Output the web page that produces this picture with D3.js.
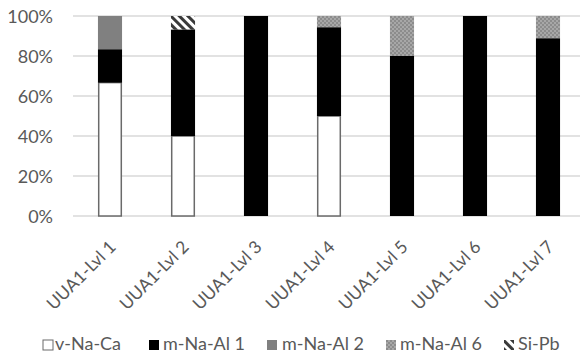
<!DOCTYPE html>
<html><head><meta charset="utf-8">
<script src="https://cdn.jsdelivr.net/npm/d3@7"></script>
<style>body{margin:0;background:#fff}svg{display:block}text{font-family:Lato,"Open Sans",sans-serif;fill:#595959}</style>
</head><body><svg id="c" width="580" height="356"></svg>
<script>
const categories = ["UUA1-Lvl 1","UUA1-Lvl 2","UUA1-Lvl 3","UUA1-Lvl 4","UUA1-Lvl 5","UUA1-Lvl 6","UUA1-Lvl 7"];
const seriesNames = ["v-Na-Ca","m-Na-Al 1","m-Na-Al 2","m-Na-Al 6","Si-Pb"];
const vNaCa   = [66.7, 40,   0,   50,   0,  0,   0];
const mNaAl1  = [16.7, 53.3, 100, 44.4, 80, 100, 88.9];
const mNaAl2  = [16.6, 0,    0,   0,    0,  0,   0];
const mNaAl6  = [0,    0,    0,   5.6,  20, 0,   11.1];
const siPb    = [0,    6.7,  0,   0,    0,  0,   0];
const yTicks = [0, 20, 40, 60, 80, 100];

const svg = d3.select("#c");
const defs = svg.append("defs");
const dots = defs.append("pattern").attr("id","dots").attr("patternUnits","userSpaceOnUse").attr("width",4).attr("height",4);
dots.append("rect").attr("width",4).attr("height",4).attr("fill","#8c8c8c");
dots.append("circle").attr("cx",1).attr("cy",1).attr("r",0.7).attr("fill","#d8d8d8");
dots.append("circle").attr("cx",3).attr("cy",3).attr("r",0.7).attr("fill","#d8d8d8");
const hatch = defs.append("pattern").attr("id","hatch").attr("patternUnits","userSpaceOnUse").attr("width",6).attr("height",6).attr("patternTransform","rotate(-45)");
hatch.append("rect").attr("width",6).attr("height",6).attr("fill","#fff");
hatch.append("rect").attr("width",3).attr("height",6).attr("fill","#3a3a3a");

const fills = ["#ffffff","#000000","#808080","url(#dots)","url(#hatch)"];
const strokes = ["#6a6a6a","none","none","none","none"];

const x = d3.scaleBand().domain(categories).range([73.5, 584.5]).paddingInner(0.67).paddingOuter(0.335);
const y = d3.scaleLinear().domain([0,100]).range([216,16]);

svg.append("g").selectAll("line").data(yTicks).join("line")
  .attr("x1",73).attr("x2",580).attr("y1",d=>y(d)).attr("y2",d=>y(d))
  .attr("stroke","#d9d9d9").attr("stroke-width",1.3);

const yAxis = svg.append("g").attr("transform","translate(73,0)")
  .call(d3.axisLeft(y).tickValues(yTicks).tickFormat(d=>d+"%").tickSize(0).tickPadding(20));
yAxis.select(".domain").remove();
yAxis.selectAll("text").style("font-size","18px").attr("fill","#595959").attr("dy","0.36em");

const stackData = categories.map((c,i)=>({c, "v-Na-Ca":vNaCa[i], "m-Na-Al 1":mNaAl1[i], "m-Na-Al 2":mNaAl2[i], "m-Na-Al 6":mNaAl6[i], "Si-Pb":siPb[i]}));
const stacked = d3.stack().keys(seriesNames)(stackData);

stacked.forEach((layer,k)=>{
  svg.append("g").selectAll("rect").data(layer.filter(d=>d[1]-d[0]>0)).join("rect")
    .attr("x",d=>x(d.data.c)+(strokes[k]!=="none"?0.75:0))
    .attr("width",d=>x.bandwidth()-(strokes[k]!=="none"?1.5:0))
    .attr("y",d=>y(d[1]))
    .attr("height",d=>y(d[0])-y(d[1]))
    .attr("fill",fills[k])
    .attr("stroke",strokes[k]).attr("stroke-width",1.5);
});

const xAxis = svg.append("g").attr("transform","translate(0,216)")
  .call(d3.axisBottom(x).tickSize(0).tickPadding(0));
xAxis.select(".domain").remove();
xAxis.selectAll("text")
  .style("font-size","17.5px").attr("fill","#595959")
  .attr("text-anchor","end").attr("y",0).attr("dy","0")
  .attr("transform","translate(7,32) rotate(-45)");

const legendSq = [43, 149, 267, 386, 504];
const legendTx = [55, 163, 282, 400, 518];
const lg = svg.append("g").selectAll("g").data(seriesNames).join("g");
lg.append("rect").attr("x",(d,i)=>legendSq[i]).attr("y",340).attr("width",10).attr("height",10)
  .attr("fill",(d,i)=>fills[i]).attr("stroke",(d,i)=>i===0?"#6a6a6a":"none");
lg.append("text").attr("x",(d,i)=>legendTx[i]).attr("y",350).style("font-size","18px").attr("fill","#404040").text(d=>d);
</script></body></html>
